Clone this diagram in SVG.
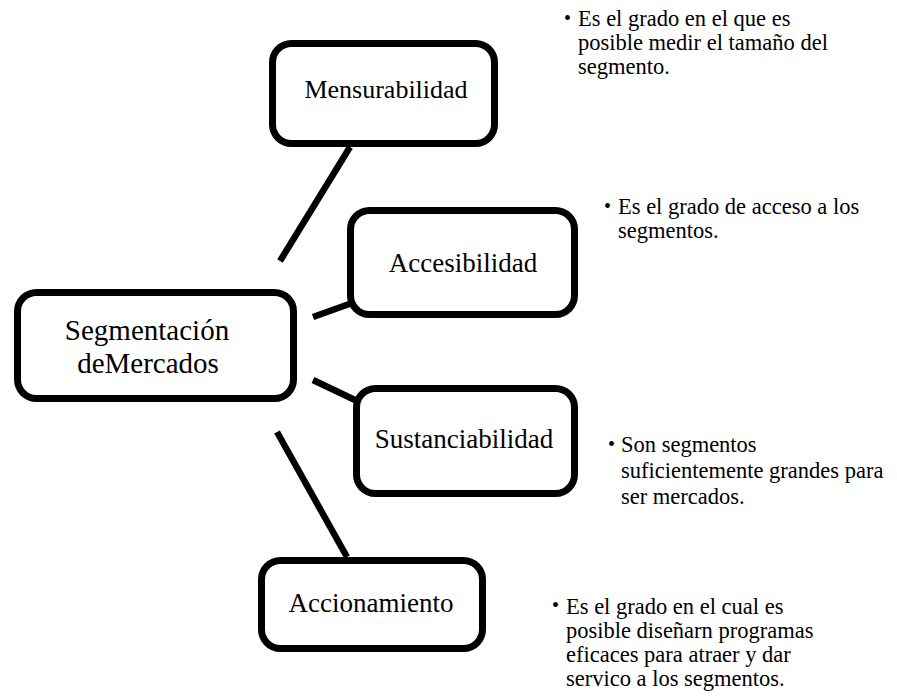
<svg xmlns="http://www.w3.org/2000/svg" width="897" height="697" viewBox="0 0 897 697">
<style>
.box{fill:#fff;stroke:#000;stroke-width:7}
.lbl{font-size:27px;fill:#000;text-anchor:middle}
.note{font-size:22.5px;fill:#000}
.bul{font-size:20px;fill:#000}
.con{stroke:#000;stroke-width:6.5;fill:none}
</style>
<rect width="897" height="697" fill="#fff"/>
<g id="connectors">
<line class="con" x1="280" y1="261" x2="350" y2="147"/>
<line class="con" x1="313" y1="317" x2="352" y2="303"/>
<line class="con" x1="313" y1="380" x2="355" y2="400"/>
<line class="con" x1="277" y1="432" x2="347" y2="557"/>
</g>
<g font-family="Liberation Serif, DejaVu Serif, serif">
<g id="segmentacion">
<rect class="box" x="17.5" y="292.5" width="276" height="106" rx="19"/>
<text class="lbl" style="font-size:29px" x="147" y="340">Segmentación</text>
<text class="lbl" style="font-size:29px" x="148" y="373">deMercados</text>
</g>
<g id="mensurabilidad">
<rect class="box" x="272.5" y="43.5" width="222" height="100" rx="19"/>
<text class="lbl" style="font-size:26px" x="386" y="98">Mensurabilidad</text>
</g>
<g id="accesibilidad">
<rect class="box" x="350.5" y="210.5" width="224" height="104" rx="19"/>
<text class="lbl" x="463" y="272">Accesibilidad</text>
</g>
<g id="sustanciabilidad">
<rect class="box" x="356.5" y="388.5" width="218" height="105" rx="19"/>
<text class="lbl" x="464" y="448">Sustanciabilidad</text>
</g>
<g id="accionamiento">
<rect class="box" x="261.5" y="560.5" width="221" height="88" rx="19"/>
<text class="lbl" x="371" y="612">Accionamiento</text>
</g>
<g id="note-mensurabilidad">
<text class="bul" x="564" y="25">•</text>
<text class="note" x="578" y="26"><tspan x="578">Es el grado en el que es</tspan><tspan x="578" dy="24">posible medir el tamaño del</tspan><tspan x="578" dy="24">segmento.</tspan></text>
</g>
<g id="note-accesibilidad">
<text class="bul" x="604" y="213">•</text>
<text class="note" x="618" y="214"><tspan x="618">Es el grado de acceso a los</tspan><tspan x="618" dy="24">segmentos.</tspan></text>
</g>
<g id="note-sustanciabilidad">
<text class="bul" x="608" y="451">•</text>
<text class="note" x="621" y="452"><tspan x="621">Son segmentos</tspan><tspan x="621" dy="26">suficientemente grandes para</tspan><tspan x="621" dy="26">ser mercados.</tspan></text>
</g>
<g id="note-accionamiento">
<text class="bul" x="552" y="612">•</text>
<text class="note" x="566" y="614"><tspan x="566">Es el grado en el cual es</tspan><tspan x="566" dy="24">posible diseñarn programas</tspan><tspan x="566" dy="24">eficaces para atraer y dar</tspan><tspan x="566" dy="24">servico a los segmentos.</tspan></text>
</g>
</g>
</svg>
